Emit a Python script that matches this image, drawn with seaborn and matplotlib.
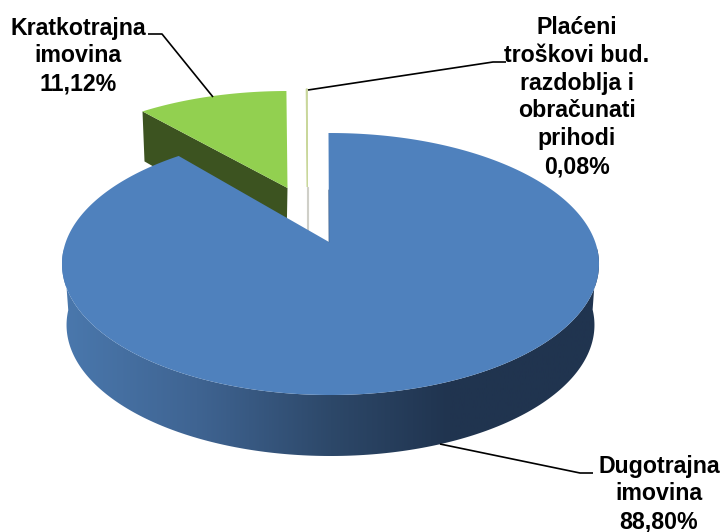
import numpy as np
import matplotlib
matplotlib.use("Agg")
import matplotlib.pyplot as plt
from matplotlib.colors import LinearSegmentedColormap
from matplotlib.patches import Polygon
import seaborn as sns

labels = ["Dugotrajna\nimovina", "Kratkotrajna\nimovina",
          "Plaćeni\ntroškovi bud.\nrazdoblja i\nobračunati\nprihodi"]
values = [88.80, 11.12, 0.08]
value_text = ["88,80%", "11,12%", "0,08%"]

C_TOP = ["#4F81BD", "#92D050", "#C9D79B"]
C_WALL = ["#4A78AD", "#3C5320", "#CFCFC8"]

# fake perspective, everything in pixel coords of the 723x532 image
PERSP = 0.168
SCALE_X = 264.7
SCALE_Y = 127.3
DEPTH = 61

sns.set_theme(style="white")
plt.rcParams["font.family"] = ["Liberation Sans", "DejaVu Sans"]


def project(theta, cx, cy, sx=1.0, sy=1.0):
    u = np.cos(np.radians(theta))
    v = np.sin(np.radians(theta))
    den = 1 + PERSP * v
    return np.column_stack([cx + sx * SCALE_X * u / den, cy - sy * SCALE_Y * v / den])


fig = plt.figure(figsize=(7.23, 5.32), dpi=100)
ax = fig.add_axes([0, 0, 1, 1])

# pie only gives the slice angles, the wedges get re-projected below
wedges, _ = ax.pie(values, startangle=90, counterclock=False)
angles = [(w.theta1, w.theta2) for w in wedges]
for w in wedges:
    w.remove()
ax.set_aspect("auto")
ax.set_xlim(0, 723)
ax.set_ylim(532, 0)
ax.axis("off")

# sliver, behind everything
th = np.linspace(angles[2][0], angles[2][1], 5)
arc = project(th, 307.3, 187, sx=0.95, sy=0.9)
apex = np.array([[307.3, 187]])
ax.add_patch(Polygon([[307.0, 187], [307.6, 187], [307.6, 240], [307.0, 240]], closed=True,
                     fc=C_WALL[2], ec=C_WALL[2], lw=0.8, zorder=1))
ax.add_patch(Polygon(np.vstack([apex, arc]), closed=True, fc=C_TOP[2], ec=C_TOP[2], lw=0.8, zorder=2))

# small slice
th = np.linspace(angles[1][0], angles[1][1], 80)
arc = project(th, 287.5, 188, sx=0.955, sy=0.89)
apex = np.array([[287.5, 188]])
corner = arc[-1]
wall = [corner, apex[0], apex[0] + [-1, 55], corner + [2, 50]]
ax.add_patch(Polygon(wall, closed=True, fc=C_WALL[1], ec="none", zorder=3))
ax.add_patch(Polygon(np.vstack([apex, arc]), closed=True, fc=C_TOP[1], ec="none", zorder=4))

# big slice, side wall with gradient first
APEX_X, APEX_Y = 330.5, 242
th = np.linspace(angles[0][0], angles[0][1], 400)
arc = project(th, APEX_X, APEX_Y)
front = np.sin(np.radians(th)) < -0.05
lower = arc[front]
bottom = project(th[front], APEX_X, APEX_Y, sx=0.983)
bottom[:, 1] += DEPTH
wall_poly = Polygon(np.vstack([lower, bottom[::-1]]), closed=True, fc="none", ec="none",
                    transform=ax.transData, zorder=5)
ax.add_patch(wall_poly)
cmap = LinearSegmentedColormap.from_list(
    "wall", [(0, "#4A78AD"), (0.25, "#3F6492"), (0.5, "#2D4869"), (0.72, "#20344F"), (1, "#20344F")])
img = ax.imshow(np.linspace(0, 1, 256).reshape(1, -1), cmap=cmap, aspect="auto",
                extent=(62, 600, 532, 0), zorder=5)
img.set_clip_path(wall_poly)
# left cut edge sits a bit left of the arc start in the reference
top_poly = np.vstack([[APEX_X - 1.5, APEX_Y], arc, [APEX_X - 2, arc[-1, 1]]])
ax.add_patch(Polygon(top_poly, closed=True, fc=C_TOP[0], ec="none", zorder=6))
ax.plot([APEX_X - 1.9, APEX_X - 1.6], [190, APEX_Y], color="#3A5A82", lw=0.7, alpha=0.6, zorder=6)
ax.set_xlim(0, 723)
ax.set_ylim(532, 0)

# leader lines
leaders = [
    ([440, 580, 593], [444, 473, 473]),
    ([148, 162, 213], [34, 34, 97]),
    ([308, 493, 506], [90, 62, 62]),
]
for xs, ys in leaders:
    ax.plot(xs, ys, color="black", lw=1.2, zorder=7, solid_capstyle="butt")

label_pos = [(659, 494), (78, 56), (577, 97)]
for lab, val, (x, y) in zip(labels, value_text, label_pos):
    ax.text(x, y, lab + "\n" + val, ha="center", va="center", fontsize=16.7,
            fontweight="bold", color="black", linespacing=1.27, zorder=8)

fig.savefig("out.png", dpi=100)
